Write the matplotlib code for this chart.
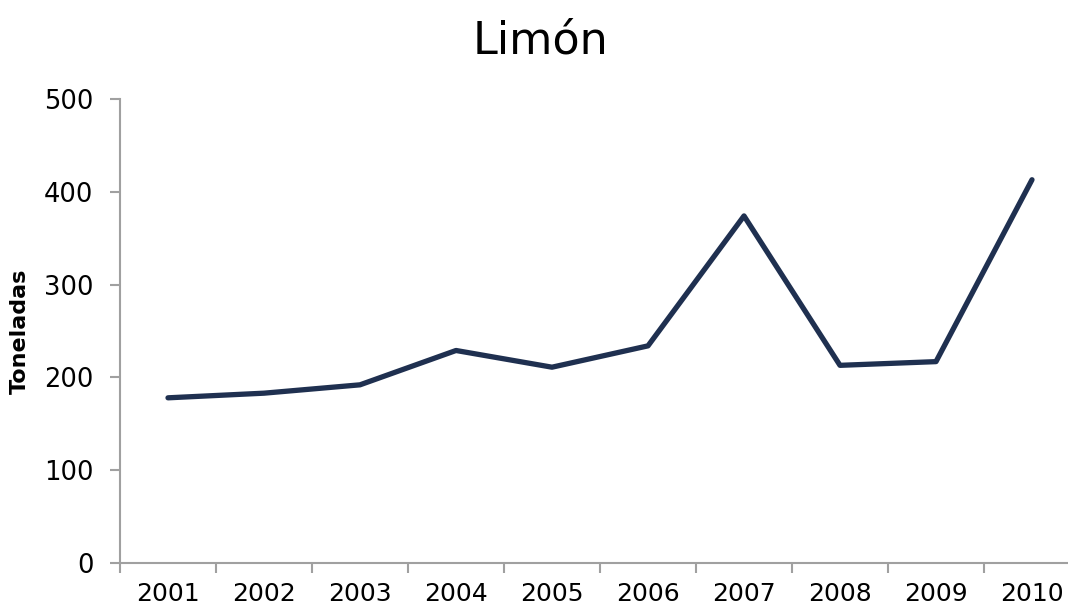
import matplotlib.pyplot as plt
import numpy as np

years = ['2001', '2002', '2003', '2004', '2005', '2006', '2007', '2008', '2009', '2010']
toneladas = [178, 183, 192, 229, 211, 234, 374, 213, 217, 413]

fig = plt.figure(figsize=(10.68, 6.09), dpi=100)
# axis runs a bit past the right edge, as in the source
ax = fig.add_axes([120/1068, 46/609, 960/1068, 464/609])

x = np.arange(len(years))
ax.plot(x, toneladas, color='#1F3050', lw=3.8, solid_capstyle='round', solid_joinstyle='round')

ax.set_xlim(-0.5, len(years) - 0.5)
ax.set_ylim(0, 500)
ax.set_yticks([0, 100, 200, 300, 400, 500])
ax.set_xticks(x)
ax.set_xticklabels(years)
ax.set_xticks(np.arange(-0.5, len(years), 1), minor=True)

for s in ['top', 'right']:
    ax.spines[s].set_visible(False)
for s in ['left', 'bottom']:
    ax.spines[s].set_color('#A0A0A0')
    ax.spines[s].set_linewidth(1.5)

ax.tick_params(axis='x', which='major', length=0, labelsize=18, pad=14)
ax.tick_params(axis='x', which='minor', length=7, width=1.5, color='#A0A0A0', direction='out')
ax.tick_params(axis='y', length=7, width=1.5, color='#A0A0A0', labelsize=18.5, pad=12)

ax.set_ylabel('Toneladas', fontsize=16, fontweight='bold', labelpad=10)
fig.text(0.506, 0.932, 'Limón', ha='center', va='center', fontsize=32)

fig.savefig('out.png', dpi=100)
